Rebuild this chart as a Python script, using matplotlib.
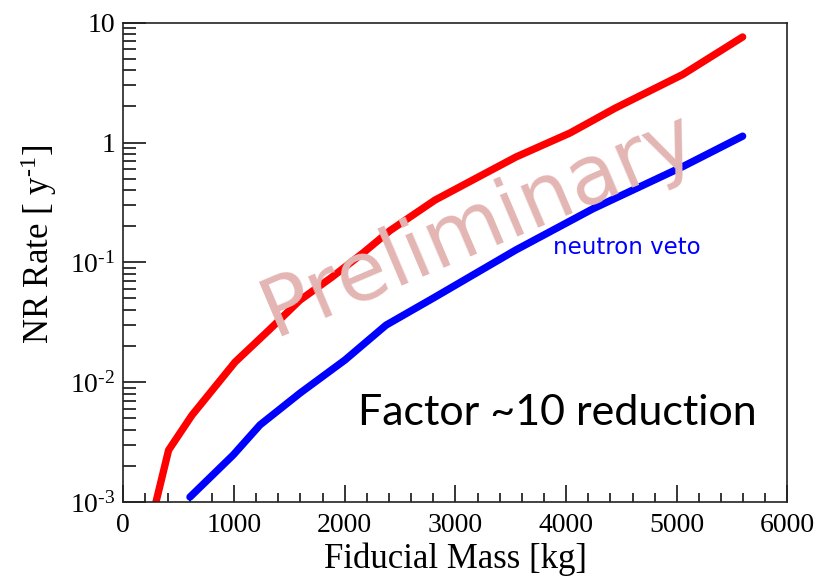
import matplotlib
matplotlib.use('Agg')
import matplotlib.pyplot as plt
import numpy as np

# values
mass_no_veto = [295, 409, 620, 1009, 1316, 1596, 1885, 2165, 2409, 2816, 3547, 4035, 4441, 5055, 5595]
rate_no_veto = [0.001, 0.00271, 0.0053, 0.0147, 0.0272, 0.0484, 0.0753, 0.1197, 0.184, 0.331, 0.757, 1.2, 1.93, 3.7, 7.6]

mass_veto = [602, 993, 1235, 1596, 2002, 2373, 2816, 3547, 4243, 5055, 5595]
rate_veto = [0.0011, 0.00247, 0.0044, 0.0081, 0.0153, 0.0299, 0.0513, 0.127, 0.28, 0.63, 1.13]

y_ticks = [1e-3, 1e-2, 1e-1, 1, 10]
y_tick_labels = ['10$^{\u20103}$', '10$^{\u20102}$', '10$^{\u20101}$', '1', '10']
x_ticks = [0, 1000, 2000, 3000, 4000, 5000, 6000]

plt.rcParams['font.family'] = ['Liberation Serif', 'DejaVu Serif']
plt.rcParams['mathtext.fontset'] = 'custom'
plt.rcParams['mathtext.rm'] = 'Liberation Serif'
plt.rcParams['mathtext.it'] = 'Liberation Serif:italic'

fig = plt.figure(figsize=(8.25, 5.79), dpi=100)
ax = fig.add_axes([0.1495, 0.133, 0.8050, 0.8278])

ax.plot(mass_no_veto, rate_no_veto, color='#ff0000', lw=5.3, solid_capstyle='round', solid_joinstyle='round')
ax.plot(mass_veto, rate_veto, color='#0000ff', lw=5.3, solid_capstyle='round', solid_joinstyle='round')

ax.set_yscale('log')
ax.set_xlim(0, 6000)
ax.set_ylim(1e-3, 10)
ax.set_yticks(y_ticks)
ax.set_yticklabels(y_tick_labels)
ax.set_xticks(x_ticks)
ax.set_xticks(np.arange(0, 6001, 200), minor=True)

ax.tick_params(axis='both', which='both', direction='in', top=False, right=False, labelsize=20, width=1.1)
ax.tick_params(axis='x', which='major', length=12, pad=8)
ax.tick_params(axis='x', which='minor', length=6.5)
ax.tick_params(axis='y', which='major', length=16.5, pad=6)
ax.tick_params(axis='y', which='minor', length=9)
for s in ax.spines.values():
    s.set_linewidth(1.2)
    s.set_color('#222222')

ax.set_xlabel('Fiducial Mass [kg]', fontsize=25)
ax.xaxis.set_label_coords(0.5, -0.085)
ax.set_ylabel('NR Rate [ y$^{\u20101}$]', fontsize=25)
ax.yaxis.set_label_coords(-0.097, 0.538)

ax.text(0.758, 0.532, 'neutron veto', transform=ax.transAxes, color='#0000ff',
        fontsize=16.5, family='DejaVu Sans', ha='center', va='center')
ax.text(0.653, 0.1607, 'Factor ~10 reduction', transform=ax.transAxes, color='black',
        fontsize=31, family='Lato', ha='center', va='baseline')
ax.text(0.535, 0.578, 'Preliminary', transform=ax.transAxes, color='#e3b6b4',
        fontsize=59, family='DejaVu Sans', rotation=23, ha='center', va='center',
        rotation_mode='anchor', zorder=5)

plt.savefig('out.png', dpi=100)
